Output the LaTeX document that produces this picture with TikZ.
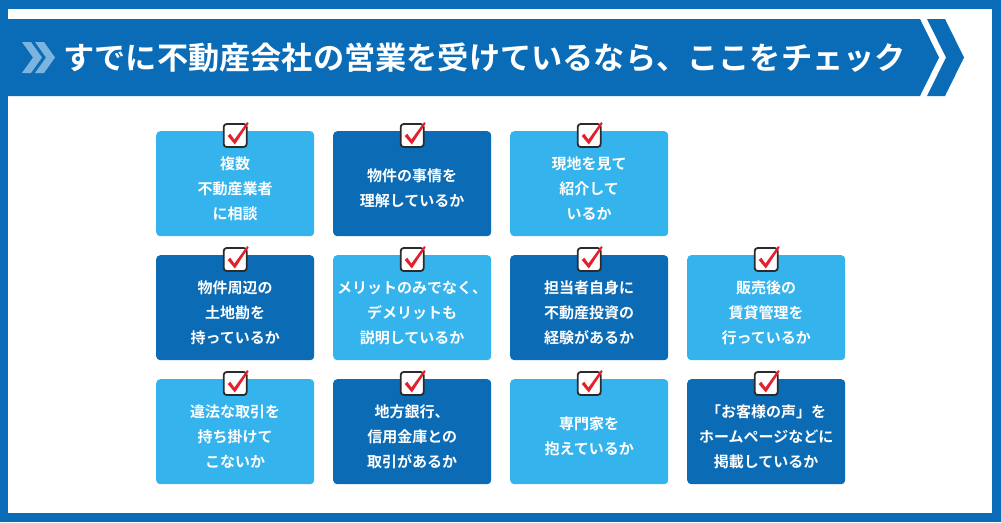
\documentclass[tikz,border=0pt]{standalone}
\usepackage{fontspec}
\newfontfamily\jp{Noto Sans CJK JP Bold}
\definecolor{frameblue}{HTML}{0A6CB6}
\definecolor{darkbox}{HTML}{0B6BB5}
\definecolor{lightbox}{HTML}{35B3EC}
\definecolor{chev}{HTML}{7DB3DF}
\definecolor{checkred}{HTML}{E3202C}
\definecolor{boxedge}{HTML}{2B2B2B}
\begin{document}
\begin{tikzpicture}[x=1pt,y=-1pt,
  card/.style={minimum width=158pt,minimum height=105pt,rounded corners=4pt,inner sep=0pt,anchor=north west},
  lightcard/.style={card,fill=lightbox},
  darkcard/.style={card,fill=darkbox},
  cardtext/.style={text=white,font=\jp\fontsize{15}{25}\selectfont,align=center,inner sep=0pt},
  chkbox/.style={draw=boxedge,line width=1.8pt,fill=white,rounded corners=3pt,minimum width=23pt,minimum height=23pt,inner sep=0pt}
]
\useasboundingbox (0,0) rectangle (1001,522);
% frame
\fill[frameblue] (0,0) rectangle (1001,522);
\fill[white] (8,9) rectangle (992,513);
% banner
\fill[frameblue] (0,19) -- (920,19) -- (939,57.5) -- (920,96) -- (0,96) -- cycle;
\fill[frameblue] (927,19) -- (945,19) -- (964,57.5) -- (945,96) -- (927,96) -- (946,57.5) -- cycle;
\fill[chev] (22,42) -- (31,42) -- (42,57.5) -- (31,73) -- (22,73) -- (33,57.5) -- cycle;
\fill[chev] (35,42) -- (44,42) -- (55,57.5) -- (44,73) -- (35,73) -- (46,57.5) -- cycle;
\node[anchor=west,text=white,font=\jp\fontsize{31.2}{31.2}\selectfont,inner sep=0pt] (title) at (63,57.5) {すでに不動産会社の営業を受けているなら、ここをチェック};

\newcommand{\card}[5]{%
  \node[#2] (#1) at (#3,#4) {};
  \node[cardtext] (#1t) at ([yshift=-5pt]#1.center) {#5};
  \node[chkbox] (#1c) at ([yshift=-4.5pt]#1.north) {};
  \fill[checkred] ([shift={(-7.5,0.5)}]#1c.center) -- ([shift={(-5,-1.8)}]#1c.center) -- ([shift={(-0.8,4)}]#1c.center) -- ([shift={(12,-13.5)}]#1c.center) -- ([shift={(13.5,-12)}]#1c.center) -- ([shift={(-0.3,9)}]#1c.center) -- cycle;
}
\card{a1}{lightcard}{156}{131}{複数\\不動産業者\\に相談}
\card{a2}{darkcard}{333}{131}{物件の事情を\\理解しているか}
\card{a3}{lightcard}{510}{131}{現地を見て\\紹介して\\いるか}
\card{b1}{darkcard}{156}{255}{物件周辺の\\土地勘を\\持っているか}
\card{b2}{lightcard}{333}{255}{メリットのみでなく、\\デメリットも\\説明しているか}
\card{b3}{darkcard}{510}{255}{担当者自身に\\不動産投資の\\経験があるか}
\card{b4}{lightcard}{687}{255}{販売後の\\賃貸管理を\\行っているか}
\card{c1}{lightcard}{156}{379}{違法な取引を\\持ち掛けて\\こないか}
\card{c2}{darkcard}{333}{379}{地方銀行、\\信用金庫との\\取引があるか}
\card{c3}{lightcard}{510}{379}{専門家を\\抱えているか}
\card{c4}{darkcard}{687}{379}{「お客様の声」を\\ホームページなどに\\掲載しているか}
\end{tikzpicture}
\end{document}
